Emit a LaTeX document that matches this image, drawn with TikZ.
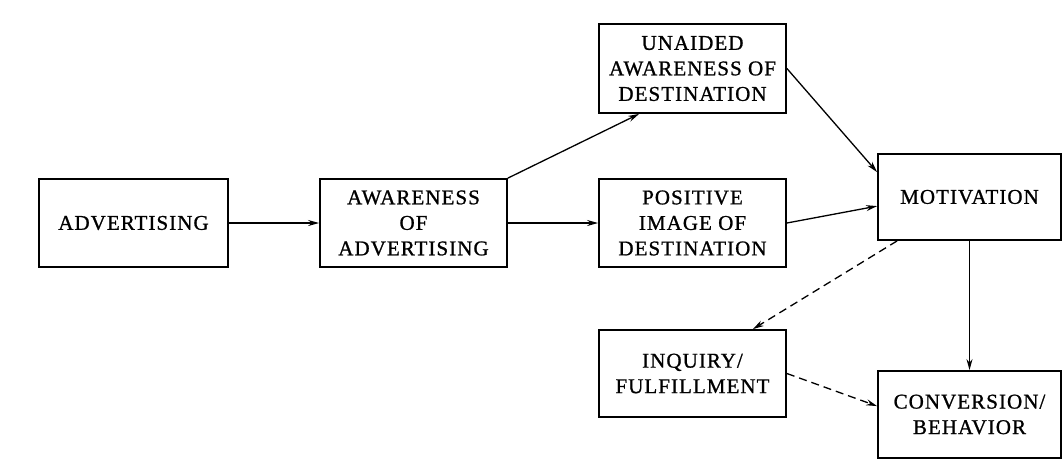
\documentclass[tikz,border=0pt]{standalone}
\usepackage{fontspec}
\setmainfont{Liberation Serif}[LetterSpace=5,FakeBold=1]
\usetikzlibrary{positioning,arrows.meta,calc}
\tikzset{
    every node/.style={font=\fontsize{21}{25.5}\selectfont},
    stagebox/.style={draw,line width=1.8pt,align=center,inner sep=2pt,minimum width=187pt,minimum height=88pt},
    flow/.style={draw,line width=1.3pt,-{Stealth[length=11pt,width=6pt]}},
    maybeflow/.style={flow,dash pattern=on 8pt off 5pt}
}
\begin{document}
\begin{tikzpicture}[x=1pt,y=-1pt]
\useasboundingbox (0,0) rectangle (1062,467);
% stages of the conversion path
\node[stagebox,minimum width=189pt] (adv) at (133.5,223) {ADVERTISING};
\node[stagebox] (awareadv) at (413.5,223) {AWARENESS\\OF\\ADVERTISING};
\node[stagebox,minimum height=89pt] (unaided) at (692.5,68.5) {UNAIDED\\AWARENESS OF\\DESTINATION};
\node[stagebox] (posimage) at (692.5,223) {POSITIVE\\IMAGE OF\\DESTINATION};
\node[stagebox,minimum height=87pt] (inquiry) at (692.5,373.5) {INQUIRY/\\FULFILLMENT};
\node[stagebox,minimum width=183pt,minimum height=86pt] (motiv) at (969.5,197) {MOTIVATION};
\node[stagebox,minimum width=183pt,minimum height=87pt] (conv) at (969.5,414.5) {CONVERSION/\\BEHAVIOR};
% links
\draw[flow] (adv.east) -- (awareadv.west);
\draw[flow] (awareadv.east) -- (posimage.west);
\draw[flow] (awareadv.north east) -- ([xshift=41pt]unaided.south west);
\draw[flow] (unaided.east) -- ([yshift=-19pt]motiv.north west);
\draw[flow] (posimage.east) -- ([yshift=-53pt]motiv.north west);
\draw[flow] (motiv.south) -- (conv.north);
\draw[maybeflow] ([xshift=20pt]motiv.south west) -- ([xshift=-34pt]inquiry.north east);
\draw[maybeflow] (inquiry.east) -- ([yshift=-36pt]conv.north west);
\end{tikzpicture}
\end{document}
